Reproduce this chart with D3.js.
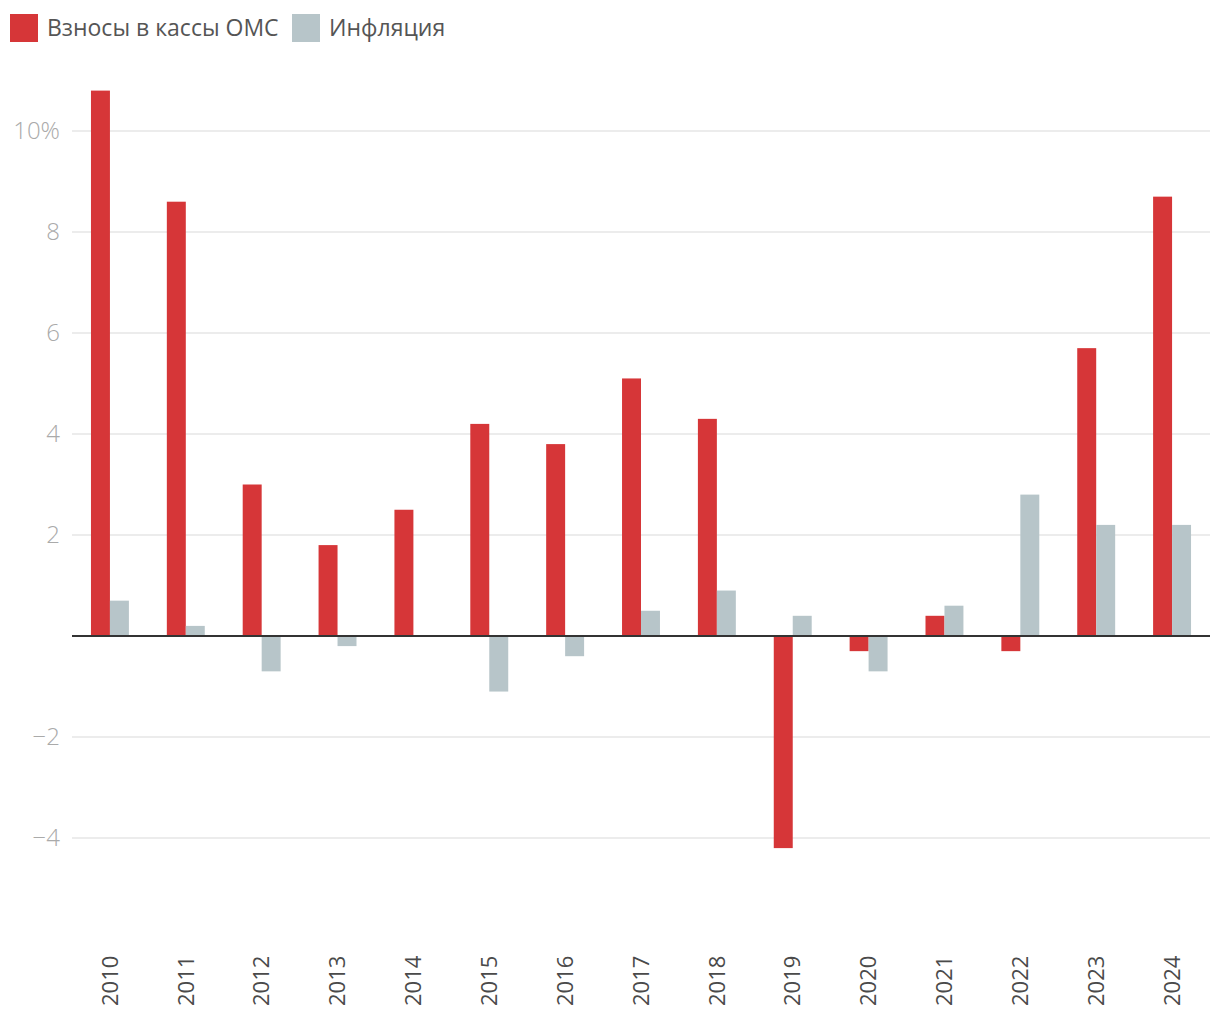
<!DOCTYPE html>
<html>
<head>
<meta charset="utf-8">
<script src="https://cdn.jsdelivr.net/npm/d3@7"></script>
<style>
  body { margin: 0; background: #fff; }
  svg { display: block; font-family: "Open Sans", sans-serif; }
</style>
</head>
<body>
<svg id="chart" width="1220" height="1020"></svg>
<script>
// data
const years = ["2010","2011","2012","2013","2014","2015","2016","2017","2018","2019","2020","2021","2022","2023","2024"];
const oms = [10.8, 8.6, 3.0, 1.8, 2.5, 4.2, 3.8, 5.1, 4.3, -4.2, -0.3, 0.4, -0.3, 5.7, 8.7];
const inflation = [0.7, 0.2, -0.7, -0.2, 0, -1.1, -0.4, 0.5, 0.9, 0.4, -0.7, 0.6, 2.8, 2.2, 2.2];
const seriesNames = ["Взносы в кассы ОМС", "Инфляция"];
const yTicks = [-4, -2, 2, 4, 6, 8, 10];

const RED = "#d63638", GRAY = "#b7c5c9";
const svg = d3.select("#chart");

const x = d3.scaleBand().domain(years).range([72, 1210]).paddingInner(0.5).paddingOuter(0.25);
const y = d3.scaleLinear().domain([-6, 11]).range([939, 80.5]);
const sub = d3.scaleBand().domain([0, 1]).range([0, x.bandwidth()]);

// gridlines + tick labels
const grid = svg.append("g");
grid.selectAll("line").data(yTicks).enter().append("line")
  .attr("x1", 72).attr("x2", 1210)
  .attr("y1", d => y(d)).attr("y2", d => y(d))
  .attr("stroke", "#e6e6e6").attr("stroke-width", 1.5);
grid.selectAll("text").data(yTicks).enter().append("text")
  .attr("x", 60).attr("y", d => y(d)).attr("dy", "0.35em")
  .attr("text-anchor", "end")
  .style("font-size", "24px").style("font-weight", 300).style("fill", "#aaa")
  .text(d => d === 10 ? "10%" : (d < 0 ? "\u2212" + Math.abs(d) : d));

// bars
const data = years.map((yr, i) => ({ yr, vals: [oms[i], inflation[i]] }));
const groups = svg.append("g").selectAll("g").data(data).enter().append("g")
  .attr("transform", d => `translate(${x(d.yr)},0)`);
groups.selectAll("rect").data(d => d.vals.map((v, k) => ({ v, k }))).enter().append("rect")
  .attr("x", d => sub(d.k))
  .attr("width", sub.bandwidth())
  .attr("y", d => y(Math.max(0, d.v)))
  .attr("height", d => Math.abs(y(d.v) - y(0)))
  .attr("fill", d => d.k === 0 ? RED : GRAY);

// zero line
svg.append("line")
  .attr("x1", 72).attr("x2", 1210).attr("y1", y(0)).attr("y2", y(0))
  .attr("stroke", "#333").attr("stroke-width", 2);

// x labels, rotated, reading upward
svg.append("g").selectAll("text").data(years).enter().append("text")
  .attr("transform", d => `translate(${x(d) + x.bandwidth() / 2},1006) rotate(-90)`)
  .attr("dy", "0.35em")
  .attr("text-anchor", "start")
  .style("font-size", "22px").style("fill", "#4a4a4a")
  .text(d => d);

// legend
const legendX = [10, 292];
const legend = svg.append("g").selectAll("g").data(seriesNames).enter().append("g")
  .attr("transform", (d, i) => `translate(${legendX[i]},14)`);
legend.append("rect").attr("width", 28).attr("height", 28)
  .attr("fill", (d, i) => i === 0 ? RED : GRAY);
legend.append("text").attr("x", 37).attr("y", 14).attr("dy", "0.35em")
  .style("font-size", "23px").style("fill", "#555")
  .text(d => d);
</script>
</body>
</html>
